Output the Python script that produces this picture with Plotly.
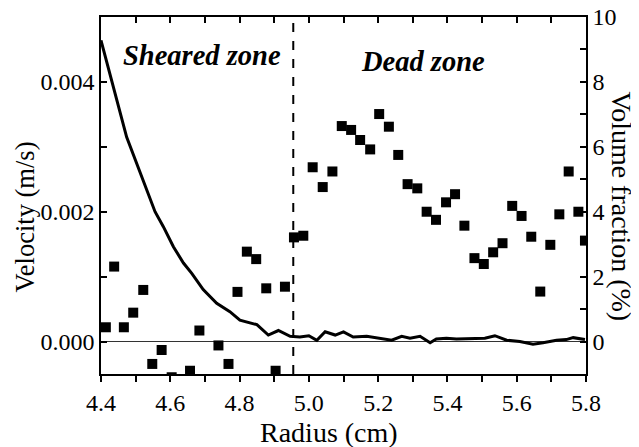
import plotly.graph_objects as go

# Velocity profile (m/s) vs radius (cm)
vel_r = [4.400, 4.474, 4.556, 4.580, 4.609, 4.638, 4.662, 4.695, 4.734, 4.772, 4.801,
         4.850, 4.883, 4.912, 4.946, 4.974, 5.000, 5.023, 5.047, 5.076, 5.100, 5.128,
         5.167, 5.205, 5.239, 5.268, 5.292, 5.321, 5.350, 5.368, 5.397, 5.426, 5.465,
         5.508, 5.537, 5.571, 5.609, 5.647, 5.676, 5.715, 5.743, 5.763, 5.797]
vel_v = [0.00464, 0.00315, 0.00200, 0.00177, 0.00146, 0.00121, 0.00105, 0.00080, 0.00059,
         0.00046, 0.00033, 0.00026, 0.00010, 0.00017, 0.00008, 0.00007, 0.00009, 0.00002,
         0.00015, 0.00010, 0.00015, 0.00007, 0.00008, 0.00005, 0.00002, 0.00008, 0.00005,
         0.00008, -0.00002, 0.00004, 0.00005, 0.00004, 0.00005, 0.00005, 0.00009, 0.00002,
         0.00000, -0.00004, -0.00002, 0.00002, 0.00003, 0.00006, 0.00003]

# Volume fraction (%) vs radius (cm)
vf_r = [4.414, 4.438, 4.466, 4.493, 4.522, 4.548, 4.575, 4.604, 4.657, 4.684, 4.739,
        4.768, 4.794, 4.821, 4.848, 4.877, 4.904, 4.931, 4.957, 4.984, 5.011, 5.040,
        5.068, 5.095, 5.122, 5.148, 5.177, 5.203, 5.231, 5.258, 5.285, 5.313, 5.340,
        5.367, 5.396, 5.422, 5.449, 5.478, 5.505, 5.532, 5.559, 5.587, 5.614, 5.642,
        5.668, 5.697, 5.723, 5.750, 5.778, 5.797]
vf_v = [0.44, 2.31, 0.44, 0.89, 1.59, -0.69, -0.26, -1.1, -0.9, 0.34, -0.12,
        -0.69, 1.53, 2.77, 2.54, 1.64, -0.9, 1.69, 3.21, 3.26, 5.37, 4.76,
        5.24, 6.64, 6.52, 6.21, 5.92, 7.01, 6.62, 5.75, 4.85, 4.72, 4.00,
        3.75, 4.29, 4.54, 3.57, 2.57, 2.39, 2.75, 3.03, 4.18, 3.87, 3.23,
        1.54, 2.98, 3.92, 5.24, 4.00, 3.11]

boundary_r = 4.955
x_ticks = [4.4, 4.6, 4.8, 5.0, 5.2, 5.4, 5.6, 5.8]
vel_ticks = [0.000, 0.002, 0.004]
vf_ticks = [0, 2, 4, 6, 8, 10]

FONT = "Liberation Serif"

fig = go.Figure()
fig.add_trace(go.Scatter(x=vf_r, y=vf_v, mode="markers", yaxis="y2",
                         marker=dict(symbol="square", size=10, color="black"),
                         showlegend=False))
fig.add_trace(go.Scatter(x=vel_r, y=vel_v, mode="lines",
                         line=dict(color="black", width=3), showlegend=False))

fig.add_shape(type="line", x0=boundary_r, x1=boundary_r, xref="x", y0=0, y1=1, yref="paper",
              line=dict(color="black", width=2, dash="dash"))

fig.add_annotation(x=4.692, y=0.00441, xref="x", yref="y", text="<b><i>Sheared zone</i></b>",
                   showarrow=False, font=dict(family=FONT, size=28.5, color="black"))
fig.add_annotation(x=5.330, y=0.00432, xref="x", yref="y", text="<b><i>Dead zone</i></b>",
                   showarrow=False, font=dict(family=FONT, size=28.5, color="black"))
# axis titles
fig.add_annotation(x=-0.157, y=0.441, xref="paper", yref="paper", xanchor="center", yanchor="middle",
                   text="Velocity (m/s)", textangle=-90, showarrow=False,
                   font=dict(family=FONT, size=26.5, color="black"))
fig.add_annotation(x=1.073, y=0.468, xref="paper", yref="paper", xanchor="center", yanchor="middle",
                   text="Volume fraction (%)", textangle=90, showarrow=False,
                   font=dict(family=FONT, size=28, color="black"))
fig.add_annotation(x=0.470, y=-0.163, xref="paper", yref="paper", xanchor="center", yanchor="middle",
                   text="Radius (cm)", showarrow=False,
                   font=dict(family=FONT, size=28, color="black"))

tickfont = dict(family=FONT, size=24, color="black")
# page body has an 8px default margin, so the figure is shrunk/offset accordingly
fig.update_layout(
    width=631, height=439,
    margin=dict(l=93, r=53, t=9, b=73, autoexpand=False),
    plot_bgcolor="white", paper_bgcolor="white",
    xaxis=dict(range=[4.4, 5.8], tickvals=x_ticks, ticktext=[f"{v:.1f}" for v in x_ticks],
               ticks="outside", ticklen=6, tickwidth=1.5, tickcolor="black", automargin=False,
               minor=dict(dtick=0.1, tick0=4.4, ticks="outside", ticklen=6, tickwidth=1.5, tickcolor="black"),
               showline=True, linecolor="black", linewidth=1.5, showgrid=False, zeroline=False,
               tickfont=tickfont, ticklabeloverflow="allow"),
    xaxis2=dict(range=[4.4, 5.8], overlaying="x", side="top", matches="x", automargin=False,
                dtick=0.1, tick0=4.4, ticks="inside", ticklen=6, tickwidth=1.5, tickcolor="black",
                showticklabels=False, showline=True, linecolor="black", linewidth=1.5,
                showgrid=False, zeroline=False),
    yaxis=dict(range=[-0.0005, 0.005], tickvals=vel_ticks, ticktext=[f"{v:.3f}" for v in vel_ticks],
               ticks="inside", ticklen=6, tickwidth=1.5, tickcolor="black", automargin=False,
               minor=dict(dtick=0.001, tick0=0, ticks="inside", ticklen=6, tickwidth=1.5, tickcolor="black"),
               showline=True, linecolor="black", linewidth=1.5, showgrid=False,
               zeroline=True, zerolinecolor="#333333", zerolinewidth=1.2,
               tickfont=tickfont, ticklabeloverflow="allow"),
    yaxis2=dict(range=[-1, 10], overlaying="y", side="right", tickvals=vf_ticks, automargin=False,
                ticks="inside", ticklen=6, tickwidth=1.5, tickcolor="black",
                minor=dict(dtick=1, tick0=0, ticks="inside", ticklen=6, tickwidth=1.5, tickcolor="black"),
                showline=True, linecolor="black", linewidth=1.5, showgrid=False, zeroline=False,
                tickfont=tickfont, ticklabeloverflow="allow"),
)
# dummy trace to activate xaxis2
fig.add_trace(go.Scatter(x=[4.4], y=[0], xaxis="x2", mode="markers",
                         marker=dict(opacity=0), showlegend=False, hoverinfo="skip"))

fig.write_html("out.html")
